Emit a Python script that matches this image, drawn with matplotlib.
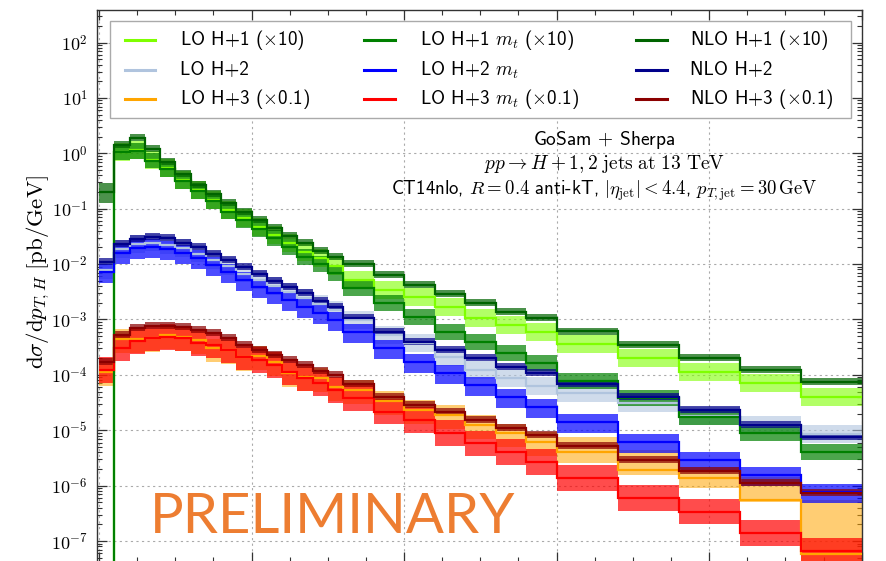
import numpy as np
import matplotlib
matplotlib.use('Agg')
import matplotlib.pyplot as plt
from matplotlib.ticker import MultipleLocator, LogLocator, NullFormatter, FuncFormatter
from matplotlib.lines import Line2D
from matplotlib.patches import Rectangle

plt.rcParams['mathtext.fontset'] = 'cm'
plt.rcParams['font.family'] = ['cmss10', 'DejaVu Sans']
plt.rcParams['axes.unicode_minus'] = False
plt.rcParams['axes.formatter.use_mathtext'] = True

nan = np.nan
# bin edges in p_T,H [GeV]
edges = [0, 10, 20, 30, 40, 50, 60, 70, 80, 90, 100, 110, 120, 130, 140, 150, 160,
         180, 200, 220, 240, 260, 280, 300, 340, 380, 420, 460, 500]

# ---- H+1 (x10) ----
lo_h1 = [0.0, 1.07, 1.15, 0.757, 0.536, 0.33, 0.217, 0.144, 0.0946, 0.0671, 0.0473, 0.0335, 0.0243, 0.0167,
         0.0127, 0.00924, 0.00516, 0.0034, 0.00255, 0.00168, 0.00106, 7.96e-4, 5.94e-4, 3.61e-4, 2.02e-4,
         1.13e-4, 7.14e-5, 3.99e-5]
lo_h1_hi = [nan, 1.55, 1.67, 1.10, 0.777, 0.479, 0.315, 0.209, 0.137, 0.0973, 0.0686, 0.0486, 0.0352, 0.0242,
            0.0184, 0.0134, 0.00748, 0.00493, 0.0037, 0.00244, 0.00154, 1.15e-3, 8.61e-4, 5.23e-4, 2.93e-4,
            1.64e-4, 1.04e-4, 5.79e-5]
lo_h1_lo = [nan, 0.738, 0.794, 0.522, 0.37, 0.228, 0.15, 0.0994, 0.0653, 0.0463, 0.0326, 0.0231, 0.0168, 0.0115,
            0.00876, 0.00638, 0.00356, 0.00235, 0.00176, 0.00116, 7.31e-4, 5.49e-4, 4.1e-4, 2.49e-4, 1.39e-4,
            7.8e-5, 4.93e-5, 2.75e-5]

lomt_h1 = [0.0, 1.06, 1.12, 0.742, 0.52, 0.316, 0.208, 0.138, 0.089, 0.0625, 0.0436, 0.0296, 0.0206, 0.0136,
           0.0099, 0.0069, 0.0037, 0.00199, 0.00111, 5.94e-4, 3.93e-4, 2.48e-4, 1.64e-4, 7.76e-5, 3.83e-5,
           1.74e-5, 8.93e-6, 4.06e-6]
lomt_h1_hi = [nan, 1.47, 1.56, 1.03, 0.723, 0.439, 0.289, 0.192, 0.124, 0.0869, 0.0606, 0.0411, 0.0286, 0.0189,
              0.0138, 0.00959, 0.00514, 0.00277, 0.00154, 8.26e-4, 5.46e-4, 3.45e-4, 2.28e-4, 1.08e-4, 5.32e-5,
              2.42e-5, 1.24e-5, 5.64e-6]
lomt_h1_lo = [nan, 0.763, 0.806, 0.534, 0.374, 0.228, 0.15, 0.0994, 0.0641, 0.045, 0.0314, 0.0213, 0.0148, 0.0098,
              0.00713, 0.00497, 0.00266, 0.00143, 7.99e-4, 4.28e-4, 2.83e-4, 1.79e-4, 1.18e-4, 5.59e-5, 2.76e-5,
              1.25e-5, 6.43e-6, 2.92e-6]

nlo_h1 = [0.2, 1.41, 1.87, 1.18, 0.705, 0.423, 0.268, 0.184, 0.125, 0.0861, 0.0625, 0.0443, 0.0321, 0.0237,
          0.0175, 0.0133, 0.0100, 0.00636, 0.0042, 0.00289, 0.00199, 0.00137, 0.00106, 6.07e-4, 3.47e-4,
          2.02e-4, 1.23e-4, 7.44e-5]
nlo_h1_hi = [0.295, 1.66, 2.21, 1.39, 0.832, 0.499, 0.316, 0.217, 0.148, 0.102, 0.0738, 0.0523, 0.0379, 0.028,
             0.0207, 0.0157, 0.0118, 0.0075, 0.00496, 0.00341, 0.00235, 0.00162, 0.00125, 7.16e-4, 4.09e-4,
             2.38e-4, 1.45e-4, 8.78e-5]
nlo_h1_lo = [0.126, 1.24, 1.65, 1.04, 0.62, 0.372, 0.236, 0.162, 0.11, 0.0758, 0.055, 0.039, 0.0282, 0.0209,
             0.0154, 0.0117, 0.0088, 0.0056, 0.0037, 0.00254, 0.00175, 0.00121, 9.33e-4, 5.34e-4, 3.05e-4,
             1.78e-4, 1.08e-4, 6.55e-5]

# ---- H+2 ----
lo_h2 = [0.00782, 0.0187, 0.0231, 0.0245, 0.0221, 0.0195, 0.0155, 0.0119, 0.00924, 0.00676, 0.00516, 0.00407,
         0.00313, 0.00244, 0.0019, 0.00148, 9.8e-4, 5.25e-4, 3.77e-4, 2.1e-4, 1.22e-4, 8.79e-5, 6.31e-5,
         4.71e-5, 3.11e-5, 1.81e-5, 1.25e-5, 8.57e-6]
lo_h2_hi = [0.0113, 0.0271, 0.0335, 0.0355, 0.032, 0.0283, 0.0225, 0.0173, 0.0134, 0.0098, 0.00748, 0.0059,
            0.00454, 0.00354, 0.00276, 0.00215, 0.00142, 7.61e-4, 5.47e-4, 3.05e-4, 1.77e-4, 1.27e-4, 9.15e-5,
            6.83e-5, 4.51e-5, 2.62e-5, 1.81e-5, 1.24e-5]
lo_h2_lo = [0.0054, 0.0129, 0.0159, 0.0169, 0.0152, 0.0135, 0.0107, 0.00821, 0.00638, 0.00466, 0.00356, 0.00281,
            0.00216, 0.00168, 0.00131, 0.00102, 6.76e-4, 3.62e-4, 2.6e-4, 1.45e-4, 8.42e-5, 6.07e-5, 4.35e-5,
            3.25e-5, 2.15e-5, 1.25e-5, 8.63e-6, 5.91e-6]

lomt_h2 = [0.0072, 0.0157, 0.0193, 0.0206, 0.0185, 0.0161, 0.0127, 0.00964, 0.00729, 0.00516, 0.00391, 0.00305,
           0.00225, 0.0017, 0.00129, 9.8e-4, 5.94e-4, 3.02e-4, 1.73e-4, 1.07e-4, 6.58e-5, 4.04e-5, 2.67e-5,
           1.43e-5, 6.22e-6, 2.91e-6, 1.56e-6, 7.78e-7]
lomt_h2_hi = [0.01, 0.0218, 0.0268, 0.0286, 0.0257, 0.0224, 0.0177, 0.0134, 0.0101, 0.00717, 0.00543, 0.00424,
              0.00313, 0.00236, 0.00179, 0.00136, 8.26e-4, 4.2e-4, 2.4e-4, 1.49e-4, 9.15e-5, 5.62e-5, 3.71e-5,
              1.99e-5, 8.65e-6, 4.04e-6, 2.17e-6, 1.08e-6]
lomt_h2_lo = [0.00454, 0.00989, 0.0122, 0.013, 0.0117, 0.0101, 0.008, 0.00607, 0.00459, 0.00325, 0.00246, 0.00192,
              0.00142, 0.00107, 8.13e-4, 6.17e-4, 3.74e-4, 1.9e-4, 1.09e-4, 6.74e-5, 4.15e-5, 2.55e-5, 1.68e-5,
              9.01e-6, 3.92e-6, 1.83e-6, 9.83e-7, 4.9e-7]

nlo_h2 = [0.0109, 0.0231, 0.028, 0.0312, 0.0292, 0.0243, 0.0201, 0.0152, 0.0119, 0.00875, 0.00662, 0.00501,
          0.00391, 0.00297, 0.00218, 0.00166, 0.00106, 6.03e-4, 3.97e-4, 2.81e-4, 1.99e-4, 1.41e-4, 1.07e-4,
          6.85e-5, 4.04e-5, 2.32e-5, 1.25e-5, 7.66e-6]
nlo_h2_hi = [0.0129, 0.0273, 0.033, 0.0368, 0.0345, 0.0287, 0.0237, 0.0179, 0.014, 0.0103, 0.00781, 0.00591,
             0.00461, 0.0035, 0.00257, 0.00196, 0.00125, 7.12e-4, 4.68e-4, 3.32e-4, 2.35e-4, 1.66e-4, 1.26e-4,
             8.08e-5, 4.77e-5, 2.74e-5, 1.48e-5, 9.04e-6]
nlo_h2_lo = [0.0096, 0.0203, 0.0246, 0.0275, 0.0257, 0.0214, 0.0177, 0.0134, 0.0105, 0.0077, 0.00583, 0.00441,
             0.00344, 0.00261, 0.00192, 0.00146, 9.33e-4, 5.31e-4, 3.49e-4, 2.47e-4, 1.75e-4, 1.24e-4, 9.42e-5,
             6.03e-5, 3.56e-5, 2.04e-5, 1.1e-5, 6.74e-6]

# ---- H+3 (x0.1) ----
lo_h3 = [1.14e-4, 4.4e-4, 4.4e-4, 4.57e-4, 5.25e-4, 4.89e-4, 4.26e-4, 3.02e-4, 2.81e-4, 2.1e-4, 2.2e-4, 1.73e-4,
         1.07e-4, 9.29e-5, 8.79e-5, 5.97e-5, 5.33e-5, 3.38e-5, 2.32e-5, 1.89e-5, 1.25e-5, 8.83e-6, 6.15e-6,
         4.11e-6, 1.92e-6, 1.38e-6, 5.52e-7, 5.85e-8]
lo_h3_hi = [1.71e-4, 6.6e-4, 6.6e-4, 6.86e-4, 7.88e-4, 7.34e-4, 6.39e-4, 4.53e-4, 4.22e-4, 3.1e-4, 3.3e-4, 2.6e-4,
            1.61e-4, 1.39e-4, 1.32e-4, 8.96e-5, 8.0e-5, 5.07e-5, 3.48e-5, 2.84e-5, 1.88e-5, 1.32e-5, 9.23e-6,
            7.67e-6, 4.41e-6, 2.2e-6, 1.45e-6, 5.52e-7]
lo_h3_lo = [6.38e-5, 2.46e-4, 2.46e-4, 2.56e-4, 2.94e-4, 2.74e-4, 2.39e-4, 1.69e-4, 1.57e-4, 1.18e-4, 1.23e-4,
            9.69e-5, 5.99e-5, 5.2e-5, 4.92e-5, 3.34e-5, 2.98e-5, 1.89e-5, 1.3e-5, 1.06e-5, 7.0e-6, 4.94e-6,
            3.44e-6, 2.54e-6, 1.56e-6, 8.98e-7, 5.0e-7, 1.31e-8]

lomt_h3 = [1.22e-4, 3.02e-4, 4.09e-4, 4.63e-4, 4.83e-4, 4.54e-4, 3.76e-4, 3.47e-4, 2.81e-4, 2.1e-4, 1.86e-4,
           1.51e-4, 1.13e-4, 8.79e-5, 7.14e-5, 5.33e-5, 3.78e-5, 2.17e-5, 1.53e-5, 8.83e-6, 5.82e-6, 4.06e-6,
           2.68e-6, 1.36e-6, 5.92e-7, 3.39e-7, 1.38e-7, 6.62e-8]
lomt_h3_hi = [2.07e-4, 5.13e-4, 6.95e-4, 7.87e-4, 8.21e-4, 7.72e-4, 6.39e-4, 5.9e-4, 4.78e-4, 3.57e-4, 3.16e-4,
              2.57e-4, 1.92e-4, 1.49e-4, 1.21e-4, 9.06e-5, 6.43e-5, 3.69e-5, 2.6e-5, 1.5e-5, 9.89e-6, 6.9e-6,
              4.56e-6, 2.31e-6, 1.01e-6, 5.76e-7, 2.35e-7, 1.13e-7]
lomt_h3_lo = [7.2e-5, 1.78e-4, 2.41e-4, 2.73e-4, 2.85e-4, 2.68e-4, 2.22e-4, 2.05e-4, 1.66e-4, 1.24e-4, 1.1e-4,
              8.91e-5, 6.67e-5, 5.19e-5, 4.21e-5, 3.14e-5, 2.23e-5, 1.28e-5, 9.03e-6, 5.21e-6, 3.43e-6, 2.4e-6,
              1.58e-6, 8.02e-7, 3.49e-7, 2.0e-7, 8.14e-8, 3.91e-8]

nlo_h3 = [1.73e-4, 5.25e-4, 6.93e-4, 7.62e-4, 7.62e-4, 7.23e-4, 6.46e-4, 5.62e-4, 4.57e-4, 3.47e-4, 2.81e-4,
          2.29e-4, 1.86e-4, 1.51e-4, 1.19e-4, 9.96e-5, 6.85e-5, 4.04e-5, 2.86e-5, 2.17e-5, 1.53e-5, 1.09e-5,
          8.22e-6, 5.2e-6, 2.91e-6, 1.84e-6, 1.1e-6, 7.29e-7]
nlo_h3_hi = [2.04e-4, 6.2e-4, 8.18e-4, 8.99e-4, 8.99e-4, 8.53e-4, 7.62e-4, 6.63e-4, 5.39e-4, 4.09e-4, 3.32e-4,
             2.7e-4, 2.19e-4, 1.78e-4, 1.4e-4, 1.18e-4, 8.08e-5, 4.77e-5, 3.37e-5, 2.56e-5, 1.81e-5, 1.29e-5,
             9.7e-6, 6.14e-6, 3.43e-6, 2.17e-6, 1.3e-6, 8.6e-7]
nlo_h3_lo = [1.52e-4, 4.62e-4, 6.1e-4, 6.71e-4, 6.71e-4, 6.36e-4, 5.68e-4, 4.95e-4, 4.02e-4, 3.05e-4, 2.47e-4,
             2.02e-4, 1.64e-4, 1.33e-4, 1.05e-4, 8.76e-5, 6.03e-5, 3.56e-5, 2.52e-5, 1.91e-5, 1.35e-5, 9.59e-6,
             7.23e-6, 4.58e-6, 2.56e-6, 1.62e-6, 9.68e-7, 6.42e-7]

labels = [r'LO H+1 ($\times$10)', r'LO H+2', r'LO H+3 ($\times$0.1)',
          r'LO H+1 $m_t$ ($\times$10)', r'LO H+2 $m_t$', r'LO H+3 $m_t$ ($\times$0.1)',
          r'NLO H+1 ($\times$10)', r'NLO H+2', r'NLO H+3 ($\times$0.1)']
colors = ['#7fff00', '#b0c4de', '#ffa500',
          '#008000', '#0000ff', '#ff0000',
          '#006400', '#00008b', '#8b0000']
centrals = [lo_h1, lo_h2, lo_h3, lomt_h1, lomt_h2, lomt_h3, nlo_h1, nlo_h2, nlo_h3]
uppers = [lo_h1_hi, lo_h2_hi, lo_h3_hi, lomt_h1_hi, lomt_h2_hi, lomt_h3_hi, nlo_h1_hi, nlo_h2_hi, nlo_h3_hi]
lowers = [lo_h1_lo, lo_h2_lo, lo_h3_lo, lomt_h1_lo, lomt_h2_lo, lomt_h3_lo, nlo_h1_lo, nlo_h2_lo, nlo_h3_lo]
band_alpha = [0.6, 0.6, 0.55, 0.7, 0.7, 0.7, 0.7, 0.7, 0.7]

W, H = 887, 561
fig = plt.figure(figsize=(W / 100, H / 100), dpi=100)
ax = fig.add_axes([97.5 / W, 1 - 562 / H, 764.2 / W, 552 / H])
ax.set_yscale('log')
ax.set_xlim(-1, 500)
ax.set_ylim(10 ** -7.379, 10 ** 2.588)

e = np.array(edges, dtype=float)
for lab, col, c, up, dn, a in zip(labels, colors, centrals, uppers, lowers, band_alpha):
    up = np.array(up, dtype=float)
    dn = np.array(dn, dtype=float)
    ax.fill_between(e, np.append(dn, dn[-1]), np.append(up, up[-1]), step='post',
                    color=col, alpha=a, lw=0, zorder=2)
    ax.stairs(np.array(c, dtype=float), e, baseline=None, color=col, lw=1.6, zorder=3)

ax.grid(True, which='major', color='#aaaaaa', ls=(0, (2, 3)), lw=0.8, zorder=1)
ax.xaxis.set_major_locator(MultipleLocator(100))
ax.xaxis.set_minor_locator(MultipleLocator(25))
ax.yaxis.set_major_locator(LogLocator(base=10, numticks=20))
ax.yaxis.set_minor_locator(LogLocator(base=10, subs=np.arange(2, 10), numticks=20))
ax.yaxis.set_major_formatter(FuncFormatter(lambda v, p: r'$10^{%d}$' % int(round(np.log10(v)))))
ax.yaxis.set_minor_formatter(NullFormatter())
ax.tick_params(which='both', direction='in', top=True, right=True, colors='#333333',
               labelcolor='black', labelbottom=False)
ax.tick_params(which='major', length=7, width=0.9, labelsize=13, pad=7)
ax.tick_params(which='minor', length=3.5, width=0.8, labelleft=False)
for s in ax.spines.values():
    s.set_color('#333333')
    s.set_linewidth(1.0)

# legend box (three columns, drawn in figure pixel positions)
fig.patches.append(Rectangle((110 / W, 1 - 118 / H), 741 / W, 97 / H, transform=fig.transFigure,
                             facecolor='white', edgecolor='#aaaaaa', lw=1.0, zorder=4))
col_handle_x = [(125, 155), (364, 395), (636, 667)]
col_text_x = [180, 420, 690]
row_y = [40, 70, 99]
for i, (lab, col) in enumerate(zip(labels, colors)):
    cidx, ridx = divmod(i, 3)
    x0, x1 = col_handle_x[cidx]
    y = 1 - row_y[ridx] / H
    fig.lines.append(Line2D([x0 / W, x1 / W], [y, y], transform=fig.transFigure,
                            color=col, lw=2.2, zorder=5))
    fig.text(col_text_x[cidx] / W, y, lab, ha='left', va='center', fontsize=13.8, zorder=6)

fig.text(604 / W, 1 - 140 / H, r'GoSam $+$ Sherpa', ha='center', va='center', fontsize=14)
fig.text(604 / W, 1 - 164 / H, r'$pp \to H + 1, 2\ \mathrm{jets\ at\ 13\ TeV}$',
         ha='center', va='center', fontsize=14)
fig.text(604 / W, 1 - 191 / H,
         r'CT14nlo, $R=0.4$ anti-kT, $|\eta_{\mathrm{jet}}| < 4.4$, $p_{T,\mathrm{jet}} = 30\,\mathrm{GeV}$',
         ha='center', va='center', fontsize=13.5)

fig.text(38 / W, 1 - 272 / H, r'$\mathrm{d}\sigma/\mathrm{d}p_{T,H}\ [\mathrm{pb/GeV}]$',
         rotation=90, ha='center', va='center', fontsize=16.5)

fig.text(150 / W, 1 - 533 / H, 'PRELIMINARY', color='#ED7D31', fontsize=40.5,
         family=['Lato', 'DejaVu Sans'], ha='left', va='baseline')

fig.savefig('out.png', dpi=100)
